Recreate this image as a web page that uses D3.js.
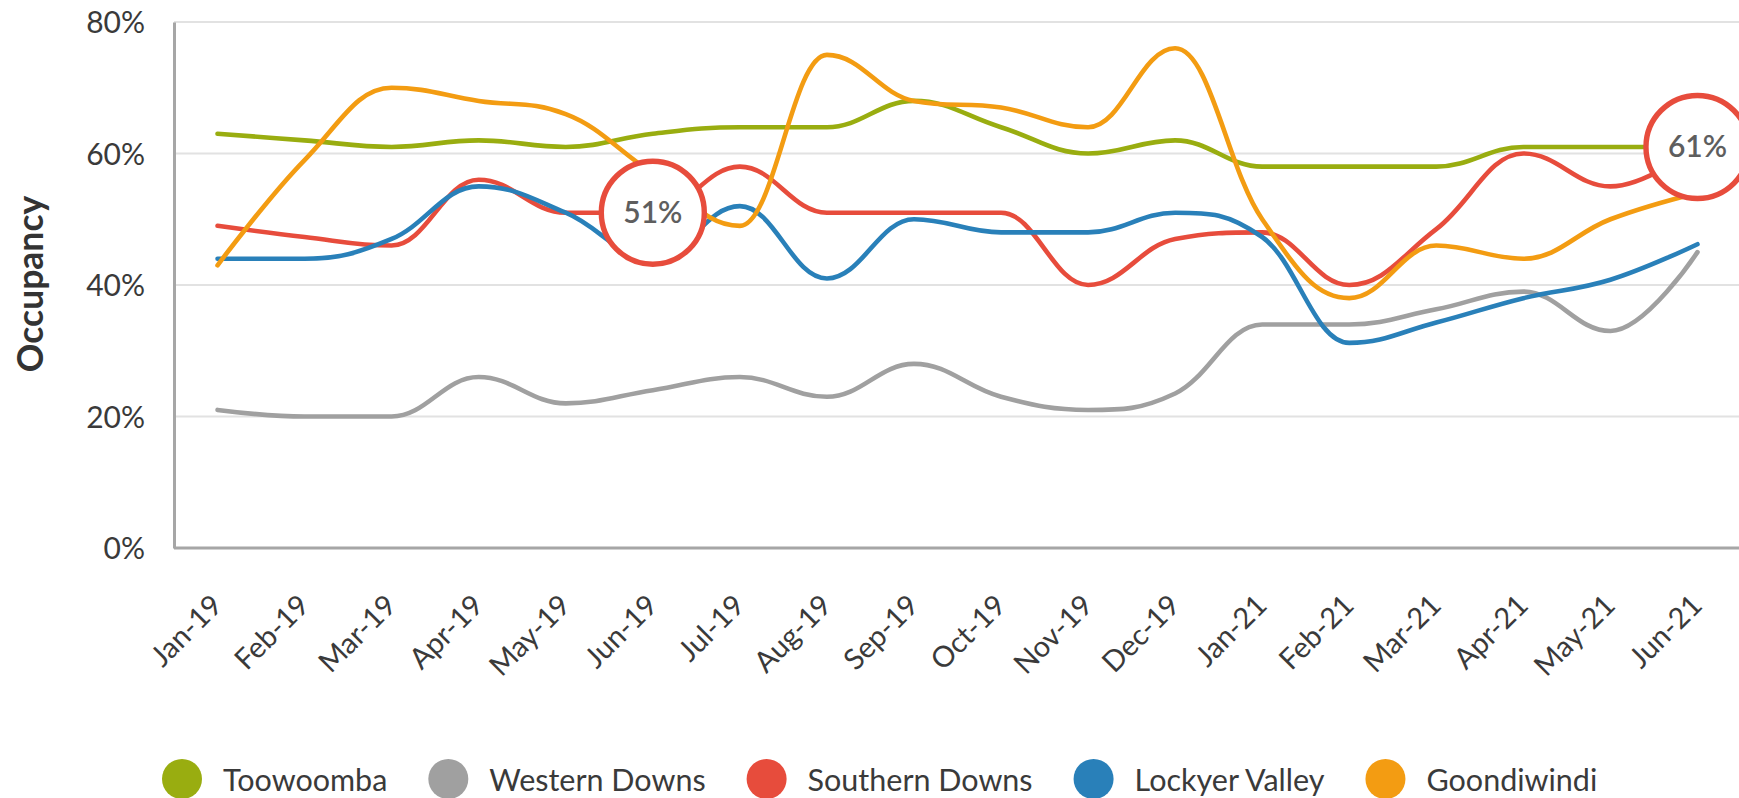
<!DOCTYPE html>
<html>
<head>
<meta charset="utf-8">
<script src="https://cdn.jsdelivr.net/npm/d3@7"></script>
<style>
  html, body { margin: 0; padding: 0; background: #fff; }
  svg { display: block; }
  text { font-family: "Source Sans Pro", Lato, "Open Sans", sans-serif; }
</style>
</head>
<body>
<svg id="chart" width="1739" height="798"></svg>
<script>
const months = ["Jan-19","Feb-19","Mar-19","Apr-19","May-19","Jun-19","Jul-19","Aug-19","Sep-19","Oct-19","Nov-19","Dec-19","Jan-21","Feb-21","Mar-21","Apr-21","May-21","Jun-21"];
const seriesNames = ["Toowoomba","Western Downs","Southern Downs","Lockyer Valley","Goondiwindi"];
const seriesColors = ["#99ad10","#a0a0a0","#e74c3c","#2980b9","#f39c12"];
const toowoomba     = [63,62,61,62,61,63,64,64,68,64,60,62,58,58,58,61,61,61];
const westernDowns  = [21,20,20,26,22,24,26,23,28,23,21,23.5,34,34,36.3,39,33,45];
const southernDowns = [49,47.3,46,56,51,51,58,51,51,51,40,47,48,40,48.5,60,55,61];
const lockyerValley = [44,44,47,55,51,44,52,41,50,48,48,51,47.3,31.2,34.3,38,40.8,46.2];
const goondiwindi   = [43,59,70,68,66,57,49,75,68,67,64,76,50,38,46,44,50,54];
const yTicks = [0,20,40,60,80];
const callouts = [
  {series: 2, month: "Jun-19", value: 51, label: "51%"},
  {series: 2, month: "Jun-21", value: 61, label: "61%"}
];

const seriesValues = [toowoomba, westernDowns, southernDowns, lockyerValley, goondiwindi];

// spline curve: control points at 0.4 of the step, with clamping to avoid false extremes
function SplineCurve(context) { this._context = context; }
SplineCurve.prototype = {
  areaStart() {}, areaEnd() {},
  lineStart() { this._pts = []; },
  point(x, y) { this._pts.push([+x, +y]); },
  lineEnd() {
    const p = this._pts, n = p.length, ctx = this._context;
    if (!n) return;
    ctx.moveTo(p[0][0], p[0][1]);
    let prevRight = null;
    const s = 1.5, dn = 2.5;
    for (let i = 1; i < n; i++) {
      const px = p[i][0], py = p[i][1];
      let lcx = px, lcy = py, rc = null;
      if (i < n - 1) {
        const lx = p[i-1][0], ly = p[i-1][1], nx = p[i+1][0], ny = p[i+1][1];
        let lX = (s*px + lx)/dn, lY = (s*py + ly)/dn, rX = (s*px + nx)/dn, rY = (s*py + ny)/dn;
        let corr = 0;
        if (rX !== lX) corr = ((rY - lY) * (rX - px)) / (rX - lX) + py - rY;
        lY += corr; rY += corr;
        if (lY > ly && lY > py) { lY = Math.max(ly, py); rY = 2*py - lY; }
        else if (lY < ly && lY < py) { lY = Math.min(ly, py); rY = 2*py - lY; }
        if (rY > ny && rY > py) { rY = Math.max(ny, py); lY = 2*py - rY; }
        else if (rY < ny && rY < py) { rY = Math.min(ny, py); lY = 2*py - rY; }
        lcx = lX; lcy = lY; rc = [rX, rY];
      }
      const c1 = prevRight || p[i-1];
      ctx.bezierCurveTo(c1[0], c1[1], lcx, lcy, px, py);
      prevRight = rc;
    }
  }
};
const curveSpline = ctx => new SplineCurve(ctx);

const svg = d3.select("#chart");
const mLeft = 174, mRight = 1741, mTop = 22, mBottom = 548;

const x = d3.scalePoint().domain(months).range([mLeft, mRight]).padding(0.5);
const y = d3.scaleLinear().domain([0, 80]).range([mBottom, mTop]);

// gridlines
svg.append("g").selectAll("line").data(yTicks.filter(d => d > 0)).join("line")
  .attr("x1", mLeft).attr("x2", 1739)
  .attr("y1", d => y(d)).attr("y2", d => y(d))
  .attr("stroke", "#e2e2e2").attr("stroke-width", 2);

// y axis
const yAxis = svg.append("g").attr("transform", `translate(${mLeft},0)`)
  .call(d3.axisLeft(y).tickValues(yTicks).tickFormat(d => d + "%").tickSize(0).tickPadding(29));
yAxis.select(".domain").attr("stroke", "#a6a6a6").attr("stroke-width", 3);
yAxis.selectAll("text").attr("font-size", 30).attr("fill", "#3a3a3a").attr("dy", "0.35em");

// x axis
const xAxis = svg.append("g").attr("transform", `translate(0,${mBottom})`)
  .call(d3.axisBottom(x).tickSize(0).tickPadding(0));
xAxis.select(".domain").attr("d", `M${mLeft},0H1739`).attr("stroke", "#a6a6a6").attr("stroke-width", 3);
xAxis.selectAll("text")
  .attr("font-size", 29).attr("fill", "#3a3a3a")
  .attr("text-anchor", "end")
  .attr("y", 0).attr("dy", 0)
  .attr("transform", "translate(6,59) rotate(-45)");

// y title
svg.append("text")
  .attr("transform", "translate(43,284) rotate(-90)")
  .attr("text-anchor", "middle")
  .attr("font-size", 35.5).attr("font-weight", 700).attr("fill", "#333")
  .text("Occupancy");

// lines
const line = d3.line()
  .x((d, i) => x(months[i]))
  .y(d => y(d))
  .curve(curveSpline);

svg.append("g").selectAll("path").data(seriesValues).join("path")
  .attr("d", d => line(d))
  .attr("fill", "none")
  .attr("stroke", (d, i) => seriesColors[i])
  .attr("stroke-width", 4.6)
  .attr("stroke-linecap", "round")
  .attr("stroke-linejoin", "round");

// callouts
const cg = svg.append("g").selectAll("g").data(callouts).join("g")
  .attr("transform", d => `translate(${x(d.month)},${y(d.value)})`);
cg.append("circle").attr("r", 51.5)
  .attr("fill", "#fff")
  .attr("stroke", d => seriesColors[d.series]).attr("stroke-width", 5.4);
cg.append("text").attr("text-anchor", "middle").attr("dy", "0.35em")
  .attr("font-size", 30).attr("font-weight", 600).attr("fill", "#5e5e5e")
  .text(d => d.label);

// legend
const legend = svg.append("g");
let lx = 182;
seriesNames.forEach((name, i) => {
  legend.append("circle").attr("cx", lx).attr("cy", 779).attr("r", 20).attr("fill", seriesColors[i]);
  const t = legend.append("text").attr("x", lx + 41).attr("y", 791)
    .attr("font-size", 30.5).attr("fill", "#3a3a3a").text(name);
  const w = t.node().getComputedTextLength();
  lx = lx + 41 + w + 41 + 20;
});
</script>
</body>
</html>
